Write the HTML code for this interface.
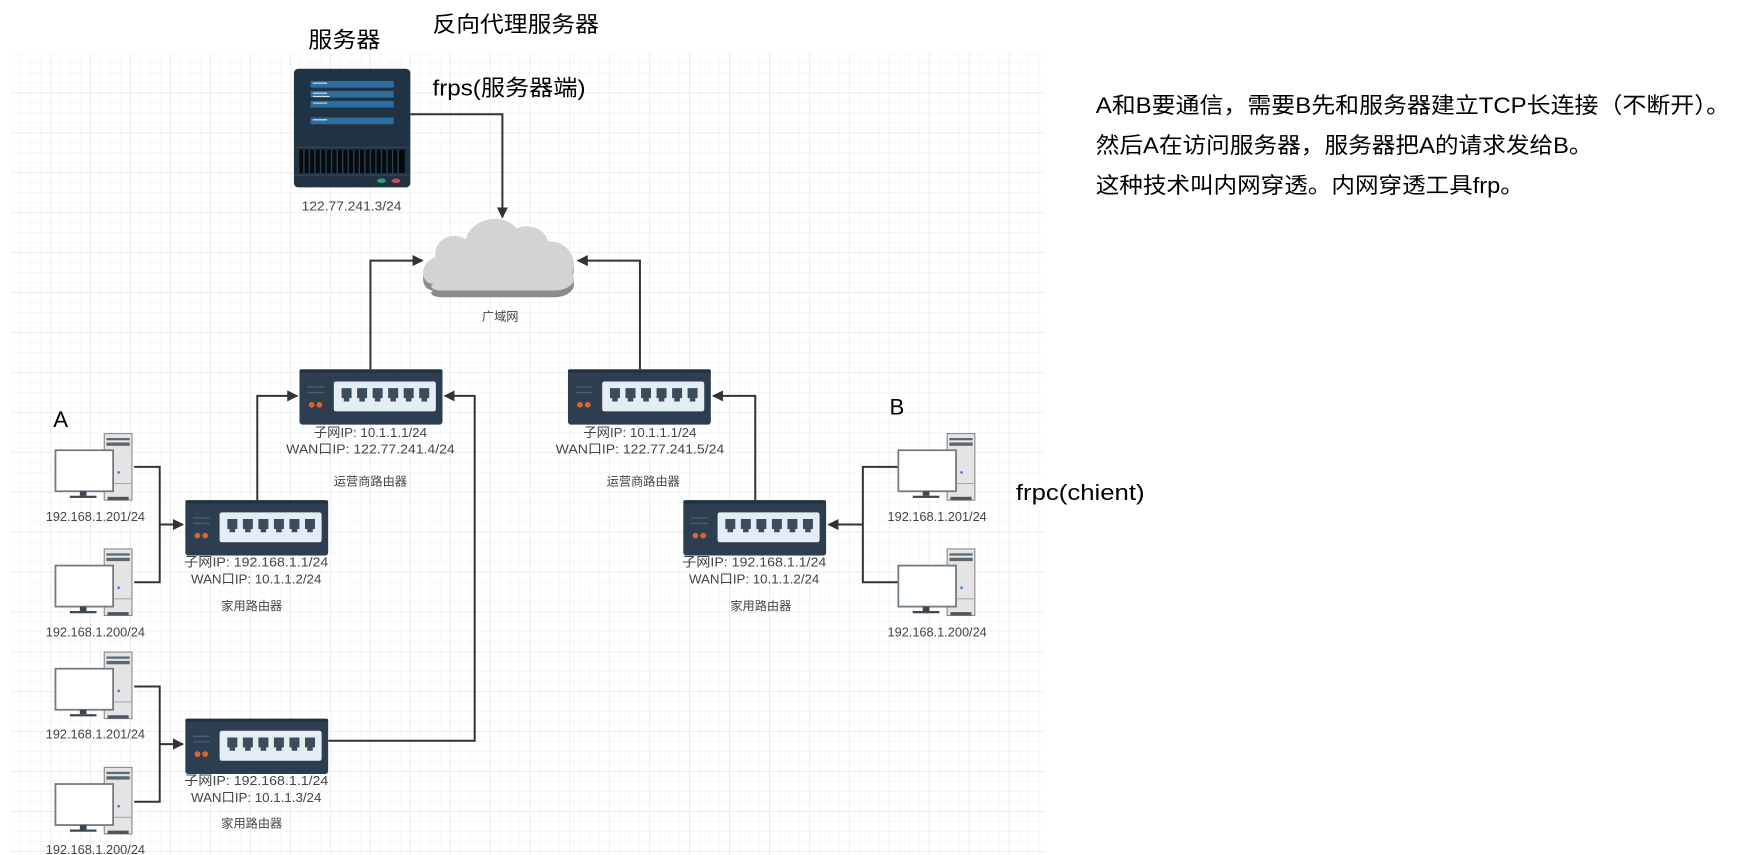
<!DOCTYPE html>
<html><head><meta charset="utf-8"><style>
html,body{margin:0;padding:0;background:#fff;width:1739px;height:855px;overflow:hidden}
svg{display:block}
text{font-family:"Liberation Sans","Noto Sans CJK SC",sans-serif}
</style></head><body>
<svg width="1739" height="855" viewBox="0 0 1568 771" preserveAspectRatio="none" xmlns="http://www.w3.org/2000/svg">
<defs>
<pattern id="g" x="10" y="48" width="9" height="9" patternUnits="userSpaceOnUse">
<path d="M9 0V9M0 9H9" stroke="#efefef" stroke-width="0.8" fill="none"/>
</pattern>
<pattern id="G" x="10" y="48" width="36" height="36" patternUnits="userSpaceOnUse">
<path d="M36 0V36M0 36H36" stroke="#e2e2e2" stroke-width="0.9" fill="none"/>
</pattern>
<marker id="ah" markerWidth="10" markerHeight="10" refX="9" refY="5" orient="auto" markerUnits="userSpaceOnUse">
<path d="M0 0L10 5L0 10Z" fill="#333"/>
</marker>
<symbol id="rt" viewBox="0 0 129 50" width="129" height="50">
<rect x="0" y="0" width="129" height="50" rx="3" fill="#2c3e50"/>
<rect x="0" y="0" width="129" height="3" rx="2" fill="#22313f"/>
<path d="M7 16H22M7 21H22" stroke="#4e5f70" stroke-width="1.2"/>
<circle cx="11" cy="32" r="2.6" fill="#e0622b"/><circle cx="18" cy="32" r="2.6" fill="#e0622b"/>
<rect x="31" y="11" width="92" height="27" rx="2" fill="#e4edf4"/>
<g fill="#3b4c5c">
<path d="M38 17h9v9h-2v3h-5v-3h-2z"/><path d="M52 17h9v9h-2v3h-5v-3h-2z"/><path d="M66 17h9v9h-2v3h-5v-3h-2z"/>
<path d="M80 17h9v9h-2v3h-5v-3h-2z"/><path d="M94 17h9v9h-2v3h-5v-3h-2z"/><path d="M108 17h9v9h-2v3h-5v-3h-2z"/>
</g>
</symbol>
<symbol id="pc" viewBox="0 0 72 62" width="72" height="62">
<rect x="45" y="1" width="25" height="60" fill="#e4e4e4" stroke="#8a8a8a"/>
<rect x="47" y="5" width="21" height="2" fill="#5a6670"/><rect x="47" y="9" width="21" height="3" fill="#5a6670"/>
<circle cx="58" cy="36" r="1.2" fill="#3b7dd8"/>
<path d="M45 46H70" stroke="#aaa"/>
<rect x="48" y="58" width="19" height="3" fill="#4b5660"/>
<rect x="1" y="16" width="52" height="37" fill="#fff" stroke="#707a82" stroke-width="1.6"/>
<rect x="23" y="53" width="6" height="4" fill="#3c4650"/>
<rect x="14" y="57" width="24" height="2" fill="#3c4650"/>
</symbol>
</defs>
<rect x="10" y="48" width="932" height="723" fill="url(#g)"/>
<rect x="10" y="48" width="932" height="723" fill="url(#G)"/>

<g font-size="20" fill="#000">
<text x="278" y="43" textLength="65" lengthAdjust="spacingAndGlyphs">服务器</text>
<text x="390" y="29" textLength="150" lengthAdjust="spacingAndGlyphs">反向代理服务器</text>
<text x="390" y="86" textLength="138" lengthAdjust="spacingAndGlyphs">frps(服务器端)</text>
<text x="48" y="385">A</text>
<text x="802" y="374">B</text>
<text x="916" y="451" textLength="116" lengthAdjust="spacingAndGlyphs">frpc(chient)</text>
</g>
<g font-size="20" fill="#000">
<text x="988" y="102" textLength="572" lengthAdjust="spacingAndGlyphs">A和B要通信，需要B先和服务器建立TCP长连接（不断开）。</text>
<text x="988" y="138" textLength="448" lengthAdjust="spacingAndGlyphs">然后A在访问服务器，服务器把A的请求发给B。</text>
<text x="988" y="174" textLength="386" lengthAdjust="spacingAndGlyphs">这种技术叫内网穿透。内网穿透工具frp。</text>
</g>

<!-- server -->
<rect x="265" y="62" width="105" height="107" rx="4" fill="#1f3345"/>
<g fill="#2e6e9e">
<rect x="280" y="73" width="75" height="6"/><rect x="280" y="82" width="75" height="6"/><rect x="280" y="91" width="75" height="6"/>
<rect x="280" y="106" width="75" height="6"/>
</g>
<g stroke="#cfe2f0" stroke-width="1"><path d="M282 75H295M282 84H295M282 93H295M282 108H295M282 87H297"/></g>
<path d="M265 133H370M265 158H370" stroke="#2f4a60"/>
<g fill="#050a0f"><rect x="270" y="135" width="95" height="21"/></g>
<g stroke="#2a3f52" stroke-width="1.3"><path d="M274 135v21M279 135v21M284 135v21M289 135v21M294 135v21M299 135v21M304 135v21M309 135v21M314 135v21M319 135v21M324 135v21M329 135v21M334 135v21M339 135v21M344 135v21M349 135v21M354 135v21M359 135v21"/></g>
<ellipse cx="344" cy="163" rx="4" ry="2" fill="#2ea36b"/><ellipse cx="357" cy="163" rx="4" ry="2" fill="#d84455"/>
<text x="317" y="172" font-size="11.5" fill="#444" text-anchor="middle" dy="18" textLength="90" lengthAdjust="spacingAndGlyphs">122.77.241.3/24</text>

<!-- cloud -->
<path d="M391 262 C378 262 378 240 393 236 C390 220 408 212 420 220 C424 202 452 194 466 210 C476 205 492 210 494 222 C508 220 522 234 516 250 C522 262 510 268 500 268 L398 268 C390 268 386 264 391 262Z" fill="#8a8a8a"/>
<path d="M391 256 C378 256 378 236 393 232 C390 216 408 208 420 216 C424 198 452 190 466 206 C476 201 492 206 494 218 C508 216 522 230 516 246 C522 256 510 262 500 262 L398 262 C390 262 386 258 391 256Z" fill="#d3d3d3"/>
<text x="451" y="289" font-size="11" fill="#444" text-anchor="middle">广域网</text>

<!-- connectors -->
<g stroke="#333" stroke-width="1.8" fill="none">
<path d="M370 103H453V196" marker-end="url(#ah)"/>
<path d="M334 333V235H381" marker-end="url(#ah)"/>
<path d="M577 333V235H521" marker-end="url(#ah)"/>
<path d="M232 451V357H268" marker-end="url(#ah)"/>
<path d="M296 668H428V357H401" marker-end="url(#ah)"/>
<path d="M681 451V357H643" marker-end="url(#ah)"/>
<path d="M121 421H144V525H121"/>
<path d="M144 473H165" marker-end="url(#ah)"/>
<path d="M121 619H144V723H121"/>
<path d="M144 671H165" marker-end="url(#ah)"/>
<path d="M810 421H778V525H810"/>
<path d="M778 473H747" marker-end="url(#ah)"/>
</g>

<!-- routers -->
<use href="#rt" x="270" y="333"/>
<use href="#rt" x="512" y="333"/>
<use href="#rt" x="167" y="451"/>
<use href="#rt" x="167" y="648"/>
<use href="#rt" x="616" y="451"/>

<g font-size="12" fill="#444" text-anchor="middle">
<text x="334" y="394">子网IP:  10.1.1.1/24</text>
<text x="334" y="409" textLength="152" lengthAdjust="spacingAndGlyphs">WAN口IP:  122.77.241.4/24</text>
<text x="334" y="438" font-size="11">运营商路由器</text>
<text x="577" y="394">子网IP:  10.1.1.1/24</text>
<text x="577" y="409" textLength="152" lengthAdjust="spacingAndGlyphs">WAN口IP:  122.77.241.5/24</text>
<text x="580" y="438" font-size="11">运营商路由器</text>
<text x="231" y="511" textLength="130" lengthAdjust="spacingAndGlyphs">子网IP:  192.168.1.1/24</text>
<text x="231" y="526">WAN口IP:  10.1.1.2/24</text>
<text x="227" y="550" font-size="11">家用路由器</text>
<text x="231" y="708" textLength="130" lengthAdjust="spacingAndGlyphs">子网IP:  192.168.1.1/24</text>
<text x="231" y="723">WAN口IP:  10.1.1.3/24</text>
<text x="227" y="746" font-size="11">家用路由器</text>
<text x="680" y="511" textLength="130" lengthAdjust="spacingAndGlyphs">子网IP:  192.168.1.1/24</text>
<text x="680" y="526">WAN口IP:  10.1.1.2/24</text>
<text x="686" y="550" font-size="11">家用路由器</text>
</g>

<!-- PCs -->
<use href="#pc" x="49" y="390"/>
<use href="#pc" x="49" y="494"/>
<use href="#pc" x="49" y="587"/>
<use href="#pc" x="49" y="691"/>
<use href="#pc" x="809" y="390"/>
<use href="#pc" x="809" y="494"/>
<g font-size="11.5" fill="#444" text-anchor="middle">
<text x="86" y="470">192.168.1.201/24</text>
<text x="86" y="574">192.168.1.200/24</text>
<text x="86" y="666">192.168.1.201/24</text>
<text x="86" y="770">192.168.1.200/24</text>
<text x="845" y="470">192.168.1.201/24</text>
<text x="845" y="574">192.168.1.200/24</text>
</g>
</svg>
</body></html>
